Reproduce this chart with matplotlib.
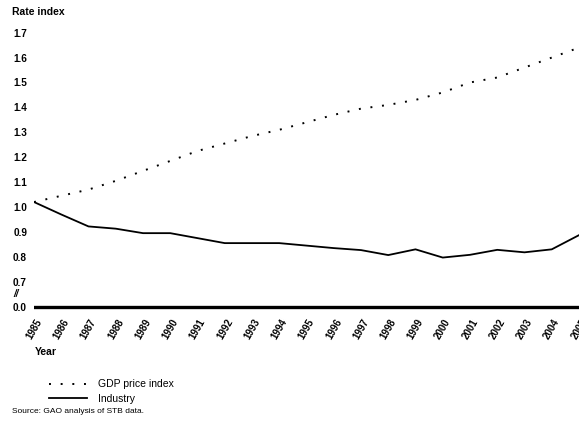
import matplotlib
matplotlib.use('Agg')
import matplotlib.pyplot as plt
import numpy as np

plt.rcParams['font.family'] = ['Liberation Sans', 'DejaVu Sans']

years = list(range(1985, 2006))

# rate index, 1985 = ~1.0
gdp_price_index = [1.02, 1.045, 1.07, 1.105, 1.145, 1.185, 1.225, 1.255, 1.285, 1.31,
                   1.34, 1.37, 1.395, 1.41, 1.43, 1.46, 1.50, 1.52, 1.56, 1.60, 1.64]
industry = [1.02, 0.97, 0.922, 0.913, 0.895, 0.895, 0.875, 0.855, 0.855, 0.855,
            0.845, 0.835, 0.827, 0.807, 0.83, 0.797, 0.808, 0.828, 0.818, 0.83, 0.887]

ytick_vals = [0.7, 0.8, 0.9, 1.0, 1.1, 1.2, 1.3, 1.4, 1.5, 1.6, 1.7]
ytick_labels = ['0.7', '0.8', '0.9', '1.0', '1.1', '1.2', '1.3', '1.4', '1.5', '1.6', '1.7']

# broken axis: zero is drawn one step below 0.7
ZERO_POS = 0.6

W, H = 579, 423
fig = plt.figure(figsize=(W / 100.0, H / 100.0), dpi=100)
ax = fig.add_axes([34.0 / W, 1 - 311.6 / H, (579.0 - 34.0) / W, (311.6 - 27.7) / H])

ax.plot(years, gdp_price_index, color='black', linestyle=(0, (1, 5)), linewidth=1.4,
        label='GDP price index')
ax.plot(years, industry, color='black', linestyle='-', linewidth=1.3, label='Industry')
ax.axhline(ZERO_POS, color='black', linewidth=2.4)

ax.set_xlim(1985, 2005)
ax.set_ylim(0.58, 1.72)

ax.set_yticks([ZERO_POS] + ytick_vals)
ax.set_yticklabels(['0.0'] + ytick_labels, fontsize=7.2, fontweight='bold')
ax.set_xticks(years)
ax.set_xticklabels([str(y) for y in years], rotation=60, ha='center', va='top',
                   fontsize=7, fontweight='bold')
ax.tick_params(axis='y', length=0, pad=5)
ax.tick_params(axis='x', length=0, pad=4)
for s in ax.spines.values():
    s.set_visible(False)

fig.text(12.0 / W, 1 - 12.0 / H, 'Rate index', fontsize=7.5, fontweight='bold',
         va='center', ha='left')
fig.text(13.0 / W, 1 - 294.0 / H, '//', fontsize=7, fontweight='bold', style='italic',
         va='center', ha='left')
fig.text(35.0 / W, 1 - 352.0 / H, 'Year', fontsize=7.5, fontweight='bold',
         va='center', ha='left')

leg = fig.legend(loc='upper left', bbox_to_anchor=(40.0 / W, 1 - 370.0 / H),
                 frameon=False, fontsize=7.5, handlelength=3.6, handletextpad=1.1,
                 labelspacing=0.45)

fig.text(12.0 / W, 1 - 411.0 / H, 'Source: GAO analysis of STB data.', fontsize=6,
         va='center', ha='left')

fig.savefig('out.png', dpi=100, facecolor='white')
